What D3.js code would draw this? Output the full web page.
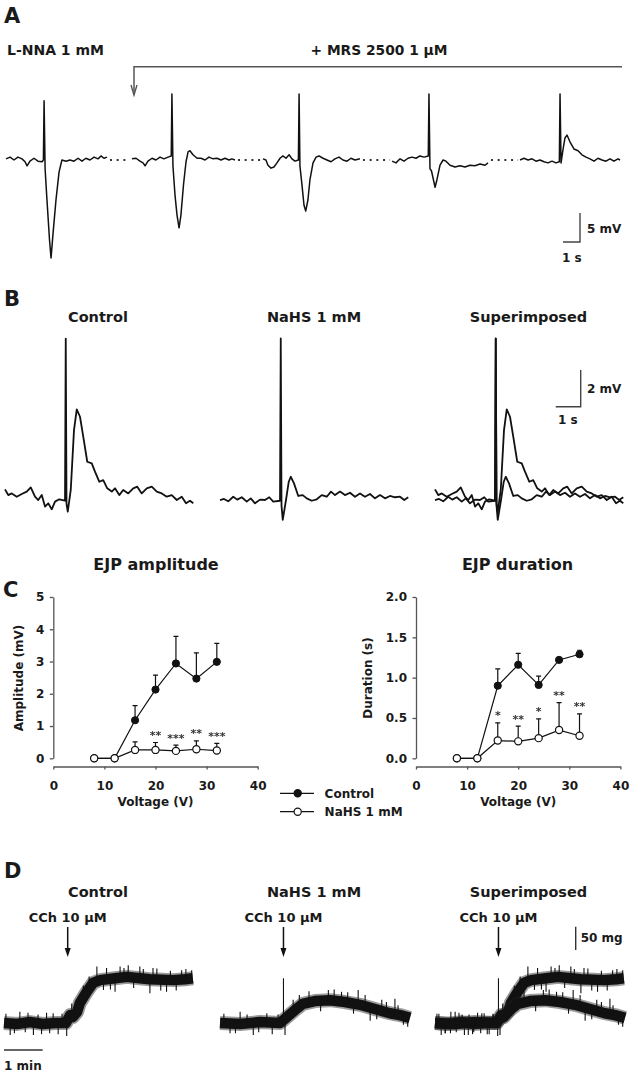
<!DOCTYPE html>
<html><head><meta charset="utf-8">
<script src="https://cdn.jsdelivr.net/npm/d3@7"></script>
<style>
body{margin:0;background:#fff}
svg{display:block}
text{font-family:"DejaVu Sans",sans-serif;font-weight:bold;fill:#1a1a1a}
.stars{filter:grayscale(1)}
</style>
</head><body>
<svg id="fig" width="630" height="1075"></svg>
<script>
// ---------------- DATA ----------------
// Panel A: intracellular recording segments [time (s), membrane potential (mV)]
const aSeg1 = [[0,0.2],[0.24,0.5],[0.47,0],[0.7,0.5],[0.94,0.2],[1.12,-0.3],[1.24,-1.0],[1.41,-0.2],[1.65,0.3],[1.88,-0.2],[2.12,-0.3],[2.2,0],[2.24,10.2],[2.3,-1.5],[2.41,-6.9],[2.56,-13.8],[2.65,-16.9],[2.76,-12.9],[2.94,-6.9],[3.12,-2.1],[3.29,0],[3.53,-0.2],[3.76,0],[4.0,-0.2],[4.24,0.3],[4.47,-0.2],[4.7,0.3],[4.94,0],[5.18,0.5],[5.41,0.2],[5.59,0.7],[5.76,0.3],[5.94,0.5]];
const aSeg2 = [[7.41,0.2],[7.65,0.3],[7.88,-0.2],[8.06,-0.5],[8.18,-1.0],[8.35,-0.2],[8.59,0.3],[8.82,0],[9.06,0.5],[9.29,0.2],[9.53,0.5],[9.72,0.7],[9.76,11.4],[9.82,-1],[9.94,-6],[10.06,-9.5],[10.18,-11.7],[10.29,-9.5],[10.44,-4.3],[10.59,-0.3],[10.71,1.4],[10.82,1.6],[11.0,0.9],[11.24,0.3],[11.47,0.3],[11.71,0],[11.94,0.5],[12.18,0.2],[12.41,0.3],[12.65,0],[12.88,0.3],[13.12,0],[13.29,0.2],[13.47,0]];
const aSeg3 = [[15.12,0.2],[15.29,0],[15.41,-0.9],[15.59,-1.4],[15.76,-1.2],[15.94,-0.5],[16.12,0.3],[16.29,0.7],[16.47,0.3],[16.65,0.9],[16.82,0.2],[17.0,-0.2],[17.2,0],[17.24,11.4],[17.29,-1],[17.41,-4.3],[17.53,-7.8],[17.63,-8.8],[17.76,-6.9],[17.88,-3.4],[18.06,-0.5],[18.24,0.5],[18.41,0.7],[18.65,0.3],[18.88,0],[19.12,-0.3],[19.35,0.2],[19.59,0.5],[19.82,0],[20.06,-0.2],[20.29,0.3],[20.53,0],[20.82,0.2]];
const aSeg4 = [[22.71,-0.2],[22.94,-0.5],[23.18,0.2],[23.41,-0.2],[23.65,0.3],[23.88,0.5],[24.12,0.3],[24.35,0.7],[24.59,0.5],[24.84,0.7],[24.88,11.4],[24.94,-1.5],[25.03,-1.9],[25.12,-3.1],[25.24,-4.7],[25.35,-3.4],[25.53,-0.9],[25.71,0],[25.88,-0.2],[26.12,-0.9],[26.41,-1.2],[26.71,-1.0],[27.0,-1.2],[27.29,-0.9],[27.59,-1.0],[27.88,-0.7],[28.18,-0.9],[28.35,-0.5]];
const aSeg5 = [[30.24,0],[30.47,0.3],[30.71,0],[30.94,0.2],[31.18,-0.2],[31.41,0],[31.65,-0.3],[31.88,-0.5],[32.12,-0.2],[32.35,-0.5],[32.55,-0.3],[32.59,11.4],[32.65,-0.5],[32.76,1.7],[32.88,3.8],[33.0,4.3],[33.18,3.1],[33.41,1.9],[33.65,1.6],[33.88,0.9],[34.12,0.5],[34.35,0.2],[34.59,-0.2],[34.82,0.3],[35.06,0],[35.29,-0.2],[35.53,0.2],[35.76,-0.2],[36.0,0.2],[36.12,0]];
const aSegments = [aSeg1, aSeg2, aSeg3, aSeg4, aSeg5];

// Panel B: EJP traces [time (s), mV]
const bControl = [[0,0.47],[0.13,0.16],[0.27,0.25],[0.47,0.07],[0.67,0.22],[0.87,0.35],[1.03,0.58],[1.2,0.07],[1.33,-0.11],[1.47,0.16],[1.6,-0.47],[1.73,-0.29],[1.87,-0.62],[2.0,-0.2],[2.17,-0.07],[2.4,-0.15],[2.43,8.71],[2.46,-0.3],[2.51,-0.75],[2.63,0.44],[2.76,3.71],[2.87,4.84],[3.0,4.44],[3.13,3.35],[3.29,1.98],[3.47,1.89],[3.6,1.44],[3.77,0.89],[3.93,0.98],[4.09,0.53],[4.27,0.35],[4.4,0.53],[4.57,0.16],[4.73,0.44],[4.93,0.25],[5.13,0.53],[5.29,0.62],[5.47,0.25],[5.67,0.53],[5.87,0.62],[6.07,0.35],[6.27,0.25],[6.47,0.07],[6.67,0.16],[6.87,-0.11],[7.07,0.07],[7.24,-0.29],[7.4,-0.15],[7.53,-0.29]];
const bNaHS = [[0,-0.11],[0.16,-0.05],[0.33,-0.18],[0.53,0.07],[0.69,-0.09],[0.87,0.04],[1.07,-0.2],[1.23,-0.02],[1.4,-0.29],[1.6,-0.09],[1.8,-0.11],[1.97,0.04],[2.13,-0.2],[2.4,-0.15],[2.43,8.72],[2.46,-0.4],[2.51,-1.2],[2.64,-0.11],[2.75,0.89],[2.83,1.16],[2.96,0.8],[3.13,0.11],[3.31,0.16],[3.47,-0.02],[3.67,-0.15],[3.87,-0.07],[4.07,0.16],[4.27,0.07],[4.44,0.35],[4.6,0.16],[4.8,0.35],[5.0,0.16],[5.2,0.29],[5.4,0.07],[5.6,0.25],[5.8,0.07],[6.0,0.22],[6.2,-0.02],[6.4,0.16],[6.6,-0.02],[6.8,0.11],[7.0,0.04],[7.2,0.07],[7.37,-0.11],[7.53,0.04]];

// Panel C: EJP amplitude / duration vs stimulation voltage
const voltages = [8, 12, 16, 20, 24, 28, 32];
const ampControl    = [0, 0, 1.18, 2.13, 2.94, 2.47, 2.99];
const ampControlErr = [0, 0, 0.45, 0.45, 0.84, 0.80, 0.57];
const ampNaHS       = [0, 0, 0.26, 0.26, 0.23, 0.28, 0.24];
const ampNaHSErr    = [0, 0, 0.25, 0.23, 0.18, 0.26, 0.22];
const ampStars      = ["", "", "", "**", "***", "**", "***"];
const durControl    = [0, 0, 0.90, 1.16, 0.91, 1.22, 1.29];
const durControlErr = [0, 0, 0.21, 0.14, 0.11, 0.02, 0.05];
const durNaHS       = [0, 0, 0.22, 0.21, 0.25, 0.35, 0.28];
const durNaHSErr    = [0, 0, 0.22, 0.19, 0.24, 0.34, 0.27];
const durStars      = ["", "", "*", "**", "*", "**", "**"];
const voltTicks = [0, 10, 20, 30, 40];
const ampTicks  = [0, 1, 2, 3, 4, 5];
const durTicks  = [0, 0.5, 1.0, 1.5, 2.0];
const legendLabels = ["Control", "NaHS 1 mM"];

// Panel D: contraction traces [time (min), tension (mg)] and noise excursions [t, from, to]
const dControl = [[0,0],[0.34,-2],[0.67,2],[1.0,-2],[1.34,0],[1.6,0],[1.71,17],[1.78,13],[1.89,24],[1.96,43],[2.14,67],[2.3,86],[2.48,92],[2.87,96],[3.18,99],[3.51,96],[3.77,94],[4.37,92],[4.68,94],[4.88,96]];
const dNaHS = [[0,0],[0.52,-2],[1.03,2],[1.55,0],[1.73,13],[1.94,28],[2.14,41],[2.45,47],[2.84,49],[3.23,45],[3.62,39],[4.0,30],[4.39,21],[4.65,17],[4.91,11]];
const dControlSpikes = [[0.05,0,20],[0.16,0,-26],[0.27,0,-22],[0.41,0,24],[0.55,0,-20],[0.62,0,22],[0.76,0,-26],[0.88,0,18],[0.97,0,-24],[1.1,0,22],[1.18,0,-22],[1.27,0,21],[1.4,0,-24],[1.5,0,20],[1.62,0,-28],[1.75,15,42],[2.05,55,80],[2.2,76,100],[2.4,92,121],[2.57,92,71],[2.65,94,118],[2.75,95,72],[2.87,96,67],[3.0,97,121],[3.1,98,118],[3.21,99,124],[3.35,98,75],[3.51,96,121],[3.6,95,116],[3.77,94,64],[3.85,94,118],[3.95,93,117],[4.05,93,70],[4.2,92,67],[4.3,92,112],[4.45,92,70],[4.59,93,113],[4.7,94,116],[4.85,95,113]];
const dNaHSSpikes = [[0.1,0,20],[0.26,0,-22],[0.4,0,-22],[0.52,0,24],[0.7,0,18],[0.86,0,-26],[1.0,0,-20],[1.21,0,21],[1.35,0,-24],[1.5,0,18],[1.64,0,96],[1.68,0,-26],[1.89,25,50],[2.05,35,60],[2.3,45,68],[2.6,48,25],[2.8,48,71],[2.95,49,72],[3.14,46,67],[3.3,44,66],[3.45,42,20],[3.57,40,71],[3.75,37,60],[3.88,32,5],[4.05,29,8],[4.18,27,50],[4.3,23,45],[4.52,22,52],[4.6,18,38],[4.74,18,-4],[4.85,12,-8]];
const cchTime = 1.64; // CCh application (min)

// ---------------- DRAWING ----------------
const svg = d3.select("#fig");
const INK = "#111";
const GRAY = "#555";

function txt(x, y, s, size, anchor, weight) {
  return svg.append("text").attr("x", x).attr("y", y).attr("font-size", size)
    .attr("text-anchor", anchor || "start").attr("font-weight", weight || "bold").text(s);
}
function scaleBar(xRight, yTop, yBottom, xLeft, color) {
  const p = xLeft !== null ? `M${xRight},${yTop}V${yBottom}H${xLeft}` : `M${xRight},${yTop}V${yBottom}`;
  svg.append("path").attr("d", p).attr("fill", "none").attr("stroke", color || "#333").attr("stroke-width", 1.4);
}

// ===== Panel A =====
txt(4, 23, "A", 21);
txt(7, 55, "L-NNA 1 mM", 14);
txt(379, 55, "+ MRS 2500 1 \u03BCM", 13.8, "middle");
svg.append("path").attr("d", "M622,66.7H134V95").attr("fill", "none").attr("stroke", GRAY).attr("stroke-width", 1.5);
svg.append("path").attr("d", "M131,85L134,95L137,85").attr("fill", "none").attr("stroke", GRAY).attr("stroke-width", 1.4);

const ax = d3.scaleLinear().domain([0, 36.12]).range([6, 6 + 36.12 * 17]);
const ay = d3.scaleLinear().domain([0, 5]).range([160, 131]);
const aLine = d3.line().x(d => ax(d[0])).y(d => ay(d[1]));
aSegments.forEach(seg => {
  svg.append("path").attr("d", aLine(seg)).attr("fill", "none").attr("stroke", INK)
    .attr("stroke-width", 1.5).attr("stroke-linejoin", "round");
});
for (let i = 0; i < aSegments.length - 1; i++) {
  const x1 = ax(aSegments[i][aSegments[i].length - 1][0]) + 3;
  const x2 = ax(aSegments[i + 1][0][0]) - 2;
  svg.append("line").attr("x1", x1).attr("x2", x2).attr("y1", ay(0)).attr("y2", ay(0))
    .attr("stroke", "#333").attr("stroke-width", 2).attr("stroke-dasharray", "2,4.7");
}
{
  const len1s = ax(1) - ax(0), len5mV = ay(0) - ay(5);
  scaleBar(580, 242 - len5mV, 242, 580 - len1s, "#444");
  txt(587, 233, "5 mV", 12);
  txt(562, 262, "1 s", 12);
}

// ===== Panel B =====
txt(4, 306, "B", 21);
const bTitles = [["Control", 98], ["NaHS 1 mM", 314], ["Superimposed", 528.5]];
bTitles.forEach(t => txt(t[1], 322, t[0], 14.5, "middle"));
const by = d3.scaleLinear().domain([0, 2]).range([498, 498 - 36.6]);
function bTrace(data, x0) {
  const bx = d3.scaleLinear().domain([0, 1]).range([x0, x0 + 25]);
  const line = d3.line().x(d => bx(d[0])).y(d => by(d[1]));
  svg.append("path").attr("d", line(data)).attr("fill", "none").attr("stroke", INK)
    .attr("stroke-width", 1.8).attr("stroke-linejoin", "round");
}
bTrace(bControl, 5);
bTrace(bNaHS, 220);
bTrace(bNaHS, 435);
bTrace(bControl, 435);
{
  const len2mV = by(0) - by(2);
  scaleBar(580.7, 406.7 - len2mV, 406.7, 555.7, "#444");
  txt(587, 393, "2 mV", 12);
  txt(558, 424, "1 s", 12);
}

// ===== Panel C =====
txt(3, 597, "C", 21);
function xyChart(cfg) {
  const x = d3.scaleLinear().domain([0, 40]).range(cfg.xr);
  const y = d3.scaleLinear().domain(cfg.yd).range([758.3, 597]);
  const gy = svg.append("g").attr("transform", `translate(${cfg.xr[0]},0)`)
    .call(d3.axisLeft(y).tickValues(cfg.yTicks).tickFormat(cfg.fmt).tickSize(3.5).tickPadding(5.5).tickSizeOuter(0));
  const gx = svg.append("g").attr("transform", `translate(0,766.5)`)
    .call(d3.axisBottom(x).tickValues(voltTicks).tickSize(3).tickPadding(11.5).tickSizeOuter(0));
  [gx, gy].forEach(g => {
    g.attr("font-family", null).attr("font-size", null);
    g.selectAll("path,line").attr("stroke", GRAY).attr("stroke-width", 1.3);
    g.selectAll("text").attr("font-size", 12).attr("fill", "#1a1a1a");
  });
  txt(cfg.titleX, 570, cfg.title, 16, "middle");
  svg.append("text").attr("transform", `translate(${cfg.ylabX},678) rotate(-90)`)
    .attr("text-anchor", "middle").attr("font-size", 12).text(cfg.ylab);
  txt((cfg.xr[0] + cfg.xr[1]) / 2, 806, "Voltage (V)", 12, "middle");

  const line = d3.line().x((d, i) => x(voltages[i])).y(d => y(d));
  [cfg.ctrl, cfg.nahs].forEach(s => {
    svg.append("path").attr("d", line(s)).attr("fill", "none").attr("stroke", INK).attr("stroke-width", 1.2);
  });
  function errBars(vals, errs) {
    vals.forEach((v, i) => {
      if (errs[i] <= 0) return;
      const xx = x(voltages[i]), y1 = y(v), y2 = y(v + errs[i]);
      svg.append("path").attr("d", `M${xx},${y1}V${y2}M${xx - 2.5},${y2}H${xx + 2.5}`)
        .attr("stroke", INK).attr("stroke-width", 1.2).attr("fill", "none");
    });
  }
  errBars(cfg.ctrl, cfg.ctrlErr);
  errBars(cfg.nahs, cfg.nahsErr);
  cfg.ctrl.forEach((v, i) => svg.append("circle").attr("cx", x(voltages[i])).attr("cy", y(v)).attr("r", 3.6)
    .attr("fill", INK).attr("stroke", INK).attr("stroke-width", 1));
  cfg.nahs.forEach((v, i) => svg.append("circle").attr("cx", x(voltages[i])).attr("cy", y(v)).attr("r", 3.6)
    .attr("fill", "#fff").attr("stroke", INK).attr("stroke-width", 1.2));
  const starG = svg.append("g").attr("class", "stars");
  cfg.stars.forEach((s, i) => {
    if (!s) return;
    starG.append("text").attr("x", x(voltages[i])).attr("y", y(cfg.nahs[i] + cfg.nahsErr[i]) - 3.5)
      .attr("text-anchor", "middle").attr("font-size", 11).attr("font-weight", "normal")
      .style("fill", "#333").text(s);
  });
}
xyChart({xr: [53.3, 257.7], yd: [0, 5], yTicks: ampTicks, fmt: d3.format("d"), title: "EJP amplitude", titleX: 156,
  ylab: "Amplitude (mV)", ylabX: 22.5, ctrl: ampControl, ctrlErr: ampControlErr, nahs: ampNaHS, nahsErr: ampNaHSErr, stars: ampStars});
xyChart({xr: [416, 620.4], yd: [0, 2], yTicks: durTicks, fmt: d3.format(".1f"), title: "EJP duration", titleX: 517.5,
  ylab: "Duration (s)", ylabX: 371.5, ctrl: durControl, ctrlErr: durControlErr, nahs: durNaHS, nahsErr: durNaHSErr, stars: durStars});
// legend
legendLabels.forEach((lab, i) => {
  const yy = 793.3 + i * 18.4;
  svg.append("line").attr("x1", 280).attr("x2", 314).attr("y1", yy).attr("y2", yy).attr("stroke", INK).attr("stroke-width", 1.2);
  svg.append("circle").attr("cx", 297.7).attr("cy", yy).attr("r", 3.6)
    .attr("fill", i === 0 ? INK : "#fff").attr("stroke", INK).attr("stroke-width", 1.2);
  txt(324.6, yy + 4.4, lab, 12);
});

// ===== Panel D =====
txt(4, 878, "D", 21);
bTitles.forEach(t => txt(t[1], 897, t[0], 14.5, "middle"));
const dy = d3.scaleLinear().domain([0, 50]).range([1023, 1023 - 23.3]);
function dTrace(data, spikes, x0) {
  const dx = d3.scaleLinear().domain([0, 1]).range([x0, x0 + 38.7]);
  const line = d3.line().x(d => dx(d[0])).y(d => dy(d[1]));
  svg.append("path").attr("d", line(data)).attr("fill", "none").attr("stroke", "#222")
    .attr("stroke-width", 14).attr("stroke-linejoin", "round").attr("stroke-opacity", 0.45);
  svg.append("path").attr("d", line(data)).attr("fill", "none").attr("stroke", INK)
    .attr("stroke-width", 10.5).attr("stroke-linejoin", "round");
  spikes.forEach(s => {
    svg.append("line").attr("x1", dx(s[0])).attr("x2", dx(s[0])).attr("y1", dy(s[1])).attr("y2", dy(s[2]))
      .attr("stroke", INK).attr("stroke-width", 1.1);
  });
  return dx;
}
const dOrigins = [4, 220, 435];
const dxs = [
  dTrace(dControl, dControlSpikes, dOrigins[0]),
  dTrace(dNaHS, dNaHSSpikes, dOrigins[1])
];
dTrace(dControl, dControlSpikes, dOrigins[2]);
dTrace(dNaHS, dNaHSSpikes, dOrigins[2]);
// CCh labels and arrows
[0, 1, 2].forEach(k => {
  const xa = dOrigins[k] + (dxs[1](cchTime) - dOrigins[1]);
  const xArrow = k === 0 ? 67.7 : xa;
  txt(xArrow, 922, "CCh 10 \u03BCM", 13, "middle");
  svg.append("line").attr("x1", xArrow).attr("x2", xArrow).attr("y1", 927).attr("y2", 950)
    .attr("stroke", INK).attr("stroke-width", 1.5);
  svg.append("path").attr("d", `M${xArrow - 3},948L${xArrow + 3},948L${xArrow},957Z`).attr("fill", INK);
});
{
  const len50 = dy(0) - dy(50);
  scaleBar(575.7, 926.7, 926.7 + len50, null, "#333");
  txt(580.7, 942, "50 mg", 12);
  const len1min = dxs[0](1) - dxs[0](0);
  svg.append("line").attr("x1", 4).attr("x2", 4 + len1min).attr("y1", 1050).attr("y2", 1050)
    .attr("stroke", "#333").attr("stroke-width", 1.4);
  txt(4, 1070, "1 min", 12);
}
</script>
</body></html>
